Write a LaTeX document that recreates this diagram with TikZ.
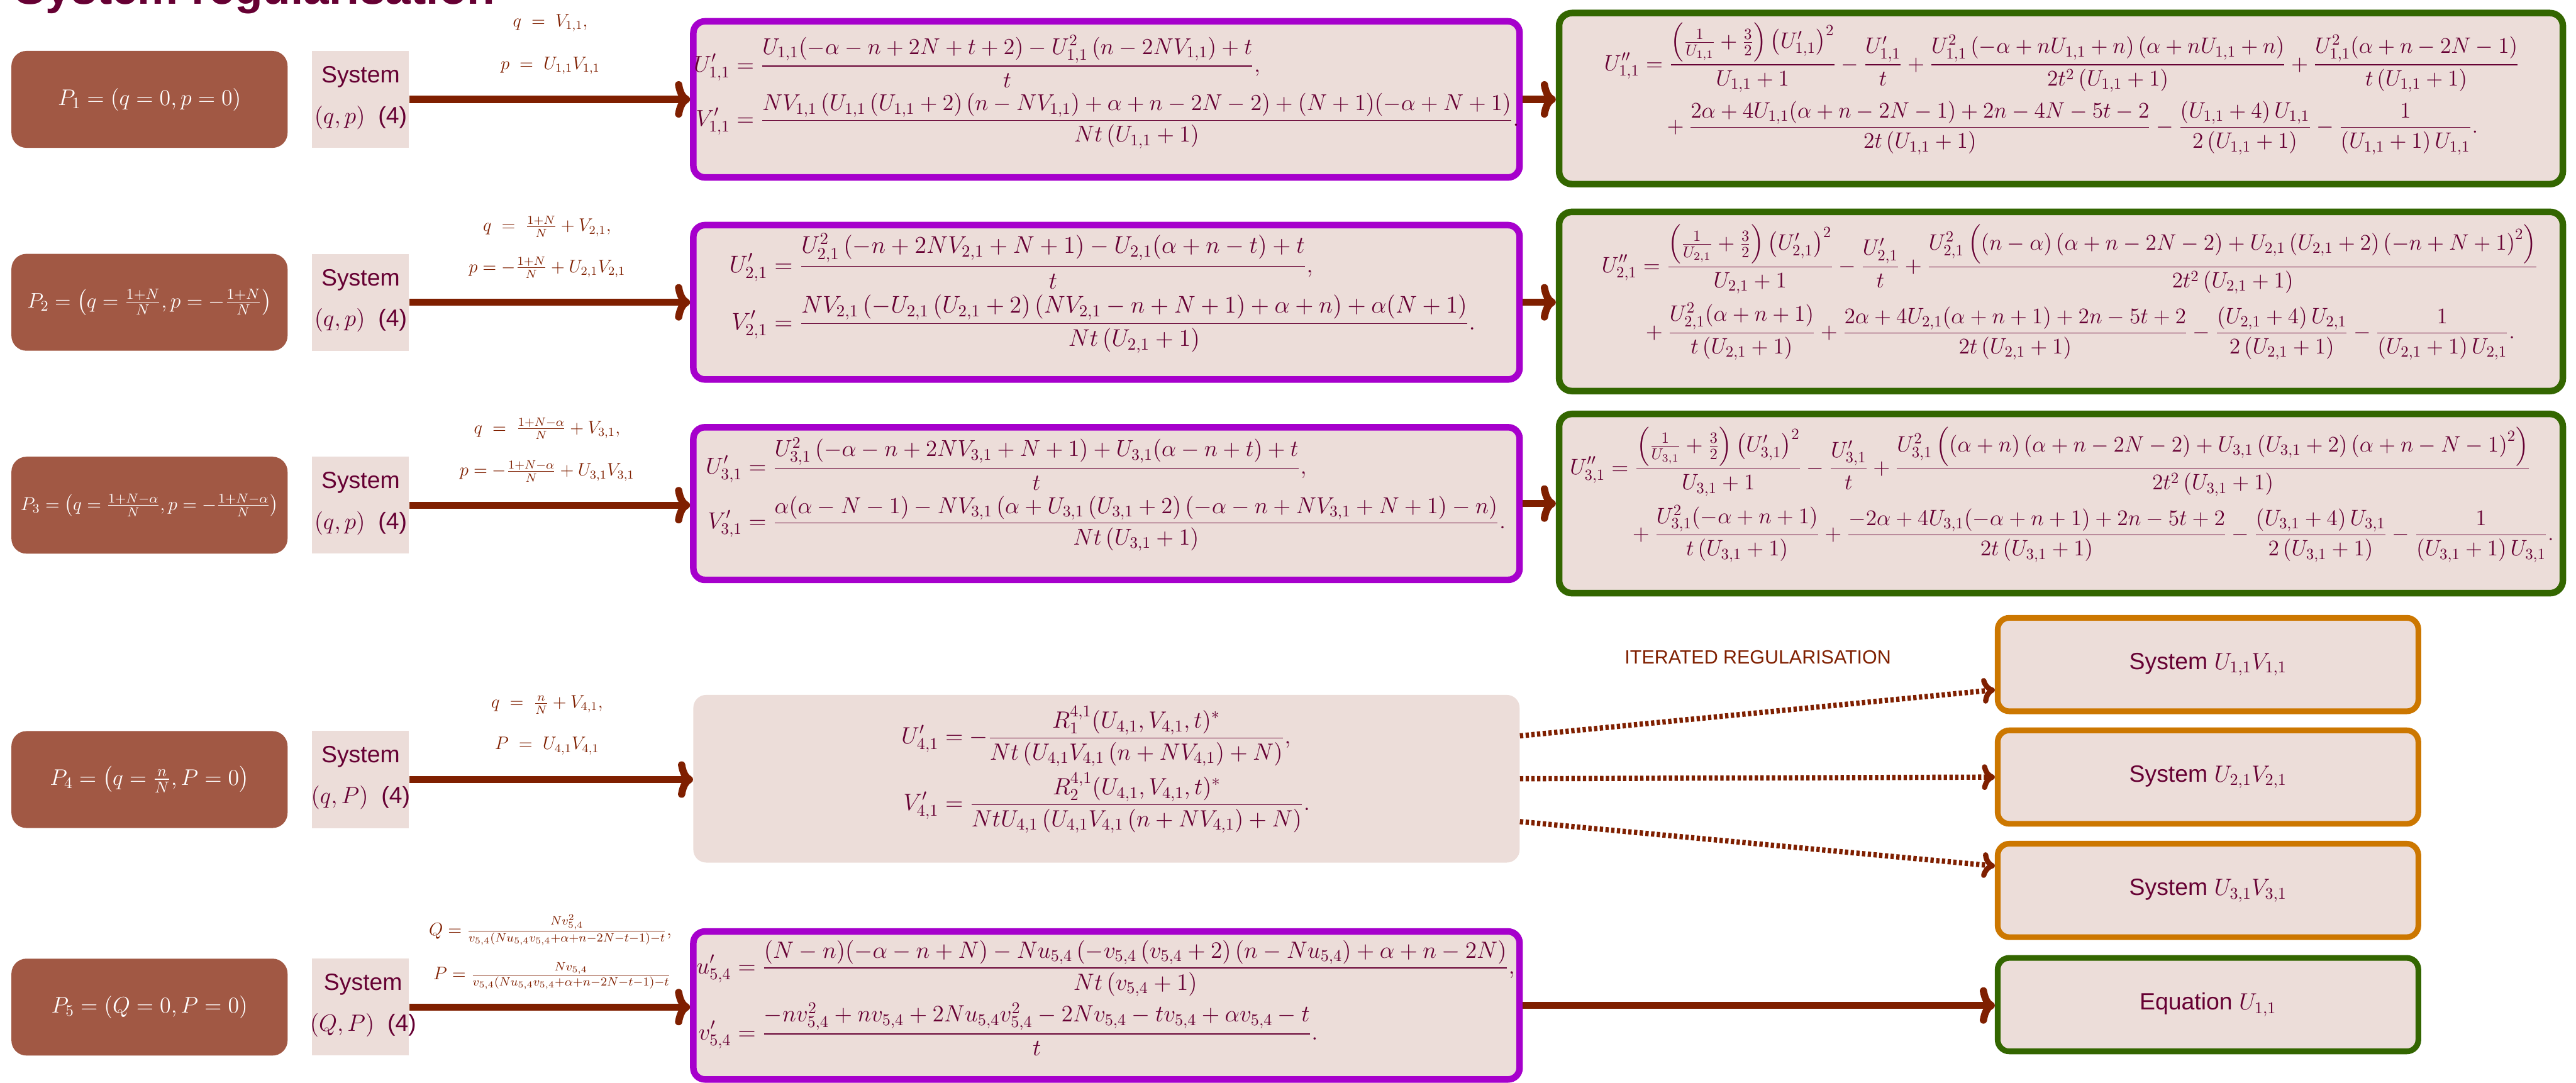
\documentclass[tikz,border=0pt]{standalone}
\usepackage{fix-cm}
\usepackage{amsmath}
\usepackage{fontspec}
\setsansfont{Liberation Sans}
\usetikzlibrary{arrows.meta}
\definecolor{pbrown}{HTML}{A15844}
\definecolor{lpink}{HTML}{ECDDD9}
\definecolor{cMaroon}{HTML}{660033}
\definecolor{arrowc}{HTML}{7F1F00}
\definecolor{purp}{HTML}{A600CC}
\definecolor{dgreen}{HTML}{336600}
\definecolor{orng}{HTML}{CC7700}
\tikzset{
  pbox/.style={fill=pbrown, rounded corners=0.35cm, minimum width=6.44cm, minimum height=2.26cm, inner sep=0pt, text=white, font=\fontsize{15}{18}\selectfont},
  sysbox/.style={fill=lpink, minimum width=2.26cm, minimum height=2.26cm, inner sep=0pt},
  systext/.style={text=cMaroon, align=center, inner sep=0pt, font=\sffamily\fontsize{15.6}{27}\selectfont},
  purpbox/.style={draw=purp, line width=4.35pt, fill=lpink, rounded corners=0.27cm, minimum width=19.27cm, inner sep=0pt},
  plainbox/.style={fill=lpink, rounded corners=0.3cm, minimum width=19.27cm, minimum height=3.91cm, inner sep=0pt},
  greenbox/.style={draw=dgreen, line width=4.35pt, fill=lpink, rounded corners=0.3cm, minimum width=23.41cm, inner sep=0pt},
  orbox/.style={draw=orng, line width=3.8pt, fill=lpink, rounded corners=0.27cm, minimum width=9.81cm, minimum height=2.18cm, inner sep=0pt, text=cMaroon, font=\sffamily\fontsize{15.6}{18}\selectfont},
  equbox/.style={orbox, draw=dgreen},
  eqtext/.style={text=cMaroon, inner sep=0pt, font=\fontsize{15.6}{19}\selectfont},
  greentext/.style={text=cMaroon, inner sep=0pt, font=\fontsize{14.8}{18}\selectfont},
  lbl/.style={text=arrowc, inner sep=0pt, font=\fontsize{12}{14}\selectfont},
  bigarrow/.style={draw=arrowc, line width=4.8pt, -{Computer Modern Rightarrow[length=0.35cm,width=0.85cm]}},
  dotarrow/.style={draw=arrowc, line width=3.5pt, dash pattern=on 2.2pt off 1.6pt, -{Computer Modern Rightarrow[length=0.3cm,width=0.6cm]}},
  titletext/.style={text=cMaroon, inner sep=0pt, font=\sffamily\bfseries\fontsize{30.5}{36}\selectfont},
  smalltag/.style={text=arrowc, inner sep=0pt, font=\sffamily\fontsize{12.7}{15}\selectfont}
}
\begin{document}
\begin{tikzpicture}[x=0.03832cm, y=-0.03832cm]
\useasboundingbox (0,0) rectangle (1568,659);
\clip (0,0) rectangle (1568,659);

\node[titletext, anchor=base west] (title) at (9,2.5) {System regularisation};

% left column
\node[pbox] (pA) at (91,60.5) {$P_1=\left(q=0,p=0\right)$};
\node[pbox, font=\fontsize{14}{17}\selectfont] (pB) at (91,184) {$P_2=\left(q=\frac{1+N}{N},p=-\frac{1+N}{N}\right)$};
\node[pbox, font=\fontsize{12.4}{15}\selectfont] (pC) at (91,307.5) {$P_3=\left(q=\frac{1+N-\alpha}{N},p=-\frac{1+N-\alpha}{N}\right)$};
\node[pbox] (pD) at (91,474.5) {$P_4=\left(q=\frac{n}{N},P=0\right)$};
\node[pbox] (pE) at (91,613) {$P_5=\left(Q=0,P=0\right)$};

\node[sysbox] (sysA) at (219.5,60.5) {};
\node[sysbox] (sysB) at (219.5,184) {};
\node[sysbox] (sysC) at (219.5,307.5) {};
\node[sysbox] (sysD) at (219.5,474.5) {};
\node[sysbox] (sysE) at (219.5,613) {};
\node[systext] (sysAt) at (219.5,59.5) {System\\$\left(q,p\right)$\ \ (4)};
\node[systext] (sysBt) at (219.5,183) {System\\$\left(q,p\right)$\ \ (4)};
\node[systext] (sysCt) at (219.5,306.5) {System\\$\left(q,p\right)$\ \ (4)};
\node[systext] (sysDt) at (219.5,473.5) {System\\$\left(q,P\right)$\ \ (4)};
\node[systext] (sysEt) at (221,612) {System\\$\left(Q,P\right)$\ \ (4)};

% arrow labels
\node[lbl] (qA) at (335,14) {$q\;=\;V_{1,1},$};
\node[lbl] (pAl) at (335,40) {$p\;=\;U_{1,1}V_{1,1}$};
\node[lbl] (qB) at (333,138) {$q\;=\;\frac{1+N}{N}+V_{2,1},$};
\node[lbl] (pBl) at (333,163) {$p=-\frac{1+N}{N}+U_{2,1}V_{2,1}$};
\node[lbl] (qC) at (333,261) {$q\;=\;\frac{1+N-\alpha}{N}+V_{3,1},$};
\node[lbl] (pCl) at (333,287) {$p=-\frac{1+N-\alpha}{N}+U_{3,1}V_{3,1}$};
\node[lbl] (qD) at (333,429) {$q\;=\;\frac{n}{N}+V_{4,1},$};
\node[lbl] (pDl) at (333,454) {$P\;=\;U_{4,1}V_{4,1}$};
\node[lbl] (qE) at (335,566) {$Q=\frac{Nv_{5,4}^2}{v_{5,4}\left(Nu_{5,4}v_{5,4}+\alpha+n-2N-t-1\right)-t},$};
\node[lbl] (pEl) at (336,594) {$P=\frac{Nv_{5,4}}{v_{5,4}\left(Nu_{5,4}v_{5,4}+\alpha+n-2N-t-1\right)-t}$};

% middle column boxes
\node[purpbox, minimum height=3.64cm] (eqA) at (673.5,60.5) {};
\node[purpbox, minimum height=3.60cm] (eqB) at (673.5,184) {};
\node[purpbox, minimum height=3.56cm] (eqC) at (673.5,306.5) {};
\node[plainbox] (eqD) at (673.5,474) {};
\node[purpbox, minimum height=3.45cm] (eqE) at (673.5,612) {};

\node[eqtext, font=\fontsize{15.2}{19}\selectfont] (eqAt) at (673.5,56) {$\begin{aligned}
U'_{1,1}&=\frac{U_{1,1}(-\alpha-n+2N+t+2)-U_{1,1}^2\left(n-2NV_{1,1}\right)+t}{t},\\
V'_{1,1}&=\frac{NV_{1,1}\left(U_{1,1}\left(U_{1,1}+2\right)\left(n-NV_{1,1}\right)+\alpha+n-2N-2\right)+(N+1)(-\alpha+N+1)}{Nt\left(U_{1,1}+1\right)}.
\end{aligned}$};
\node[eqtext, font=\fontsize{16}{19}\selectfont] (eqBt) at (671,178.5) {$\begin{aligned}
U'_{2,1}&=\frac{U_{2,1}^2\left(-n+2NV_{2,1}+N+1\right)-U_{2,1}(\alpha+n-t)+t}{t},\\
V'_{2,1}&=\frac{NV_{2,1}\left(-U_{2,1}\left(U_{2,1}+2\right)\left(NV_{2,1}-n+N+1\right)+\alpha+n\right)+\alpha(N+1)}{Nt\left(U_{2,1}+1\right)}.
\end{aligned}$};
\node[eqtext, font=\fontsize{15.3}{19}\selectfont] (eqCt) at (673,301) {$\begin{aligned}
U'_{3,1}&=\frac{U_{3,1}^2\left(-\alpha-n+2NV_{3,1}+N+1\right)+U_{3,1}(\alpha-n+t)+t}{t},\\
V'_{3,1}&=\frac{\alpha(\alpha-N-1)-NV_{3,1}\left(\alpha+U_{3,1}\left(U_{3,1}+2\right)\left(-\alpha-n+NV_{3,1}+N+1\right)-n\right)}{Nt\left(U_{3,1}+1\right)}.
\end{aligned}$};
\node[eqtext] (eqDt) at (673,468.5) {$\begin{aligned}
U'_{4,1}&=-\frac{R_1^{4,1}(U_{4,1},V_{4,1},t)^*}{Nt\left(U_{4,1}V_{4,1}\left(n+NV_{4,1}\right)+N\right)},\\
V'_{4,1}&=\frac{R_2^{4,1}(U_{4,1},V_{4,1},t)^*}{NtU_{4,1}\left(U_{4,1}V_{4,1}\left(n+NV_{4,1}\right)+N\right)}.
\end{aligned}$};
\node[eqtext] (eqEt) at (673,607.5) {$\begin{aligned}
u'_{5,4}&=\frac{(N-n)(-\alpha-n+N)-Nu_{5,4}\left(-v_{5,4}\left(v_{5,4}+2\right)\left(n-Nu_{5,4}\right)+\alpha+n-2N\right)}{Nt\left(v_{5,4}+1\right)},\\
v'_{5,4}&=\frac{-nv_{5,4}^2+nv_{5,4}+2Nu_{5,4}v_{5,4}^2-2Nv_{5,4}-tv_{5,4}+\alpha v_{5,4}-t}{t}.
\end{aligned}$};

% right column boxes
\node[greenbox, minimum height=3.99cm] (grA) at (1254.5,60) {};
\node[greenbox, minimum height=4.18cm] (grB) at (1254.5,183.5) {};
\node[greenbox, minimum height=4.18cm] (grC) at (1254.5,306.5) {};

\node[greentext] (grAt) at (1255,54) {$\begin{aligned}
U''_{1,1}&=\frac{\left(\frac{1}{U_{1,1}}+\frac{3}{2}\right)\left(U'_{1,1}\right)^2}{U_{1,1}+1}-\frac{U'_{1,1}}{t}+\frac{U_{1,1}^2\left(-\alpha+nU_{1,1}+n\right)\left(\alpha+nU_{1,1}+n\right)}{2t^2\left(U_{1,1}+1\right)}+\frac{U_{1,1}^2(\alpha+n-2N-1)}{t\left(U_{1,1}+1\right)}\\[2pt]
&\quad+\frac{2\alpha+4U_{1,1}(\alpha+n-2N-1)+2n-4N-5t-2}{2t\left(U_{1,1}+1\right)}-\frac{\left(U_{1,1}+4\right)U_{1,1}}{2\left(U_{1,1}+1\right)}-\frac{1}{\left(U_{1,1}+1\right)U_{1,1}}.
\end{aligned}$};
\node[greentext] (grBt) at (1260,178) {$\begin{aligned}
U''_{2,1}&=\frac{\left(\frac{1}{U_{2,1}}+\frac{3}{2}\right)\left(U'_{2,1}\right)^2}{U_{2,1}+1}-\frac{U'_{2,1}}{t}+\frac{U_{2,1}^2\left(\left(n-\alpha\right)\left(\alpha+n-2N-2\right)+U_{2,1}\left(U_{2,1}+2\right)\left(-n+N+1\right)^2\right)}{2t^2\left(U_{2,1}+1\right)}\\[2pt]
&\,+\frac{U_{2,1}^2(\alpha+n+1)}{t\left(U_{2,1}+1\right)}+\frac{2\alpha+4U_{2,1}(\alpha+n+1)+2n-5t+2}{2t\left(U_{2,1}+1\right)}-\frac{\left(U_{2,1}+4\right)U_{2,1}}{2\left(U_{2,1}+1\right)}-\frac{1}{\left(U_{2,1}+1\right)U_{2,1}}.
\end{aligned}$};
\node[greentext] (grCt) at (1255,301) {$\begin{aligned}
U''_{3,1}&=\frac{\left(\frac{1}{U_{3,1}}+\frac{3}{2}\right)\left(U'_{3,1}\right)^2}{U_{3,1}+1}-\frac{U'_{3,1}}{t}+\frac{U_{3,1}^2\left(\left(\alpha+n\right)\left(\alpha+n-2N-2\right)+U_{3,1}\left(U_{3,1}+2\right)\left(\alpha+n-N-1\right)^2\right)}{2t^2\left(U_{3,1}+1\right)}\\[2pt]
&\quad+\frac{U_{3,1}^2(-\alpha+n+1)}{t\left(U_{3,1}+1\right)}+\frac{-2\alpha+4U_{3,1}(-\alpha+n+1)+2n-5t+2}{2t\left(U_{3,1}+1\right)}-\frac{\left(U_{3,1}+4\right)U_{3,1}}{2\left(U_{3,1}+1\right)}-\frac{1}{\left(U_{3,1}+1\right)U_{3,1}}.
\end{aligned}$};

% iterated regularisation targets
\node[orbox] (orA) at (1344,404.5) {System $U_{1,1}V_{1,1}$};
\node[orbox] (orB) at (1344,473) {System $U_{2,1}V_{2,1}$};
\node[orbox] (orC) at (1344,542) {System $U_{3,1}V_{3,1}$};
\node[equbox] (equ) at (1344,611.5) {Equation $U_{1,1}$};
\node[smalltag] (iter) at (1070,400) {ITERATED REGULARISATION};

% connectors
\draw[bigarrow] (sysA.east) -- (sysA.east -| eqA.west);
\draw[bigarrow] (sysB.east) -- (sysB.east -| eqB.west);
\draw[bigarrow] (sysC.east) -- (sysC.east -| eqC.west);
\draw[bigarrow] (sysD.east) -- (sysD.east -| eqD.west);
\draw[bigarrow] (sysE.east) -- (sysE.east -| eqE.west);
\draw[bigarrow] (eqA.east) -- (eqA.east -| grA.west);
\draw[bigarrow] (eqB.east) -- (eqB.east -| grB.west);
\draw[bigarrow] (eqC.east) -- (eqC.east -| grC.west);
\draw[bigarrow] (eqE.east) -- (eqE.east -| equ.west);
\draw[dotarrow] ([yshift=1cm]eqD.east) -- ([yshift=-0.59cm]orA.west);
\draw[dotarrow] (eqD.east) -- (orB.west);
\draw[dotarrow] ([yshift=-1cm]eqD.east) -- ([yshift=0.57cm]orC.west);
\end{tikzpicture}
\end{document}
